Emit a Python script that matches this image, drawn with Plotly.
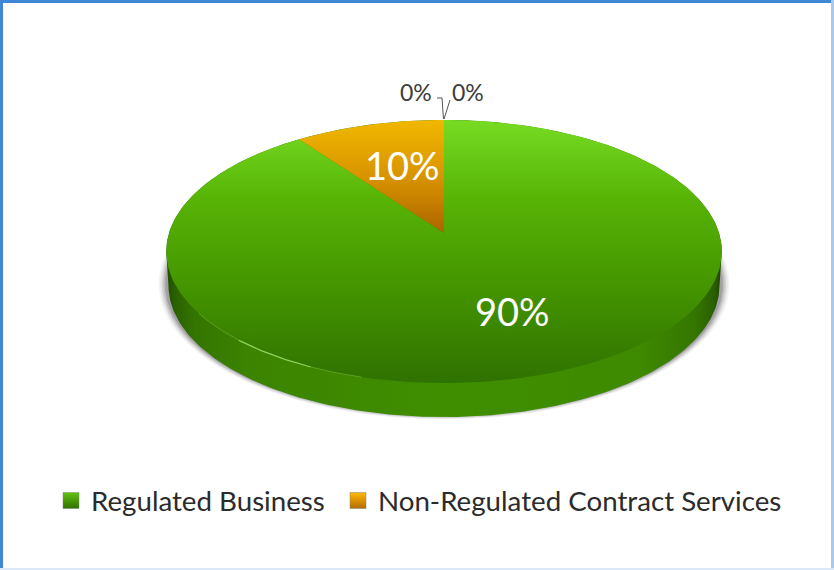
import numpy as np
import plotly.graph_objects as go

# Data
categories = ["Regulated Business", "Non-Regulated Contract Services", "", " "]
values = [90, 10, 0, 0]
label_text = ["90%", "10%", "0%", "0%"]

# Geometry of the tilted disc (page pixels) and its perspective
CX, CY = 444, 233
B, A, K = 275, 129, 0.1407
DEPTH = 34
FONT = "Lato, Carlito, Calibri, sans-serif"


def project(theta, scale=1.0):
    u, v = np.sin(theta) * scale, np.cos(theta) * scale
    d = 1 + K * v
    return CX + B * u / d, CY - A * v / d


def wedge(start, stop):
    t = np.radians(np.linspace(start, stop, 240))
    x, y = project(t)
    return [CX, *x, CX], [CY, *y, CY]


shares = 360 * np.array(values) / sum(values)
edges = np.concatenate([[0], np.cumsum(shares)])
theta_wide = np.arccos(-K)  # rim's widest point

fig = go.Figure()

# soft shadow under the disc
t_all = np.radians(np.linspace(0, 360, 361))
sx, sy = project(t_all)
for grow, alpha in [(1.028, 0.05), (1.022, 0.07), (1.016, 0.10), (1.010, 0.14), (1.004, 0.20)]:
    fig.add_trace(go.Scatter(
        x=CX + (sx - CX) * grow, y=(sy - 262) * grow + 262 + DEPTH * 0.97,
        mode="lines", line=dict(width=0), fill="toself",
        fillcolor=f"rgba(50,50,55,{alpha})", hoverinfo="skip", showlegend=False))

# side wall of the disc
t_low = np.linspace(theta_wide, 2 * np.pi - theta_wide, 240)
lx, ly = project(t_low)
t_up = np.linspace(-theta_wide, theta_wide, 240)
ux, uy = project(t_up)
fig.add_trace(go.Scatter(
    x=[*ux, *(CX + (lx - CX) * 0.992)], y=[*uy, *(ly + DEPTH)],
    mode="lines", line=dict(width=0), fill="toself",
    fillgradient=dict(type="horizontal", colorscale=[
        [0, "#1f4a00"], [0.015, "#2a6000"], [0.05, "#347400"], [0.15, "#3c8400"], [0.5, "#3f8e00"],
        [0.85, "#3e8a00"], [0.95, "#357600"], [0.985, "#2a6000"], [1, "#1d4500"]]),
    hoverinfo="skip", showlegend=False))

# top face slices (y axis is reversed, so stops run from bottom to top)
slice_scales = [
    [[0, "#2f7200"], [0.38, "#459600"], [0.70, "#57b406"], [1, "#76dc22"]],
    [[0, "#ad6400"], [0.5, "#d89400"], [1, "#f0b800"]],
]
for i in range(2):
    wx, wy = wedge(edges[i], edges[i + 1])
    fig.add_trace(go.Scatter(
        x=wx, y=wy, mode="lines", line=dict(width=0), fill="toself",
        fillgradient=dict(type="vertical", colorscale=slice_scales[i]),
        name=categories[i], hoverinfo="name", showlegend=False))

# specular highlight on the front rim
for a, b, col, w in [(205, 222, "#8fd45a", 1.2), (195, 205, "#5ba01f", 1.0), (222, 235, "#5ba01f", 1.0)]:
    hx, hy = project(np.radians(np.linspace(a, b, 50)))
    fig.add_trace(go.Scatter(x=hx, y=hy, mode="lines", line=dict(color=col, width=w),
                             hoverinfo="skip", showlegend=False))

# leader lines of the two 0% labels
fig.add_trace(go.Scatter(x=[437, 442, 443.5], y=[98, 98, 119], mode="lines",
                         line=dict(color="#555555", width=1), hoverinfo="skip", showlegend=False))
fig.add_trace(go.Scatter(x=[450, 444], y=[100, 119], mode="lines",
                         line=dict(color="#555555", width=1), hoverinfo="skip", showlegend=False))

# legend entries
legend_colors = [("#62c30f", "#2f7000"), ("#ffb800", "#b56a00")]
legend_ids = ["legend", "legend2"]
for i in range(2):
    fig.add_trace(go.Scatter(
        x=[None], y=[None], mode="markers", name=categories[i], legend=legend_ids[i],
        marker=dict(symbol="square", size=16, color=legend_colors[i][0],
                    line=dict(color="#7a8a70", width=0.5),
                    gradient=dict(type="vertical", color=legend_colors[i][1])),
        showlegend=True))

label_pos = [(512, 311, 38, "white"), (402, 165, 38, "white"),
             (416, 92, 23, "#3c3c3c"), (468, 92, 23, "#3c3c3c")]
for txt, (x, y, size, col) in zip(label_text, label_pos):
    fig.add_annotation(x=x, y=y, text=txt, showarrow=False, xref="x", yref="y",
                       font=dict(family=FONT, size=size, color=col))

frame = [(0, 1.5, 834, 1.5, "#3f86d6", 3), (1.5, 0, 1.5, 570, "#3f86d6", 3),
         (832.5, 0, 832.5, 570, "#a9c9ee", 3), (0, 569, 834, 569, "#dbe8f7", 2)]
for x0, y0, x1, y1, col, w in frame:
    fig.add_shape(type="line", xref="x", yref="y", x0=x0, y0=y0, x1=x1, y1=y1,
                  line=dict(color=col, width=w), layer="above")

legend_style = dict(orientation="h", xanchor="left", y=1 - 501 / 570, yanchor="middle",
                    font=dict(family=FONT, size=27.7, color="#2b2b2b"),
                    itemclick=False, itemdoubleclick=False, bgcolor="rgba(0,0,0,0)")
fig.update_layout(
    width=834, height=570, autosize=False,
    margin=dict(l=0, r=0, t=0, b=0),
    paper_bgcolor="white", plot_bgcolor="white",
    xaxis=dict(range=[0, 834], visible=False, fixedrange=True),
    yaxis=dict(range=[570, 0], visible=False, fixedrange=True),
    legend=dict(x=51 / 834, **legend_style),
    legend2=dict(x=338 / 834, **legend_style),
    showlegend=True,
)
fig.write_html("out.html", config=dict(displayModeBar=False),
               post_script="document.body.style.margin='0';document.documentElement.style.overflow='hidden';")
